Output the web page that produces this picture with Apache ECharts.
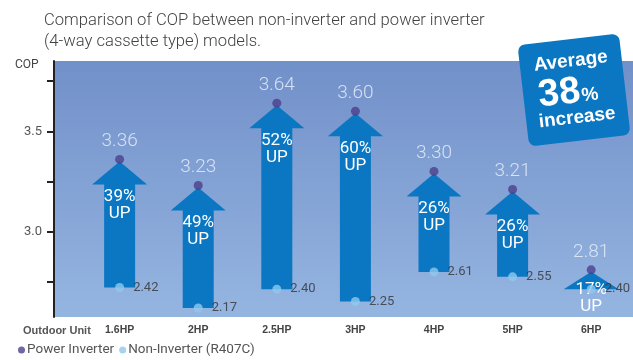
<!DOCTYPE html>
<html>
<head>
<meta charset="utf-8">
<script src="https://cdn.jsdelivr.net/npm/echarts@6/dist/echarts.min.js"></script>
<style>
  html, body { margin: 0; padding: 0; background: #ffffff; }
  #chart { width: 633px; height: 360px; }
</style>
</head>
<body>
<div id="chart"></div>
<script>
// Outdoor unit capacities and their COP figures
const categories = ['1.6HP', '2HP', '2.5HP', '3HP', '4HP', '5HP', '6HP'];
const powerInverter = [3.36, 3.23, 3.64, 3.60, 3.30, 3.21, 2.81];
const nonInverter = [2.42, 2.17, 2.40, 2.25, 2.61, 2.55, 2.40];
const increasePct = [39, 49, 52, 60, 26, 26, 17];
const copTicks = [2.75, 3.0, 3.25, 3.5, 3.75];
const copLabels = [3.0, 3.5];
const categoryTicks = [0, 1, 2, 3, 4, 5, 6];

const ARROW_BLUE = '#0b77c2';
const chart = echarts.init(document.getElementById('chart'));

// Upward arrow from the non-inverter COP (secondary scale) to the inverter COP
function renderArrow(params, api) {
  const idx = api.value(0);
  const tip = api.coord([idx, api.value(1)]);
  const baseY = chart.convertToPixel({ yAxisIndex: 1 }, api.value(2));
  const cx = tip[0];
  const tipY = tip[1] + 2;
  const total = baseY - tipY;
  const headH = Math.min(23, total);
  const headW = 55, shaftW = 31;
  const headBase = tipY + headH;
  const pts = [
    [cx, tipY],
    [cx + headW / 2, headBase],
    [cx + shaftW / 2, headBase],
    [cx + shaftW / 2, baseY],
    [cx - shaftW / 2, baseY],
    [cx - shaftW / 2, headBase],
    [cx - headW / 2, headBase]
  ];
  const textTop = tipY + Math.min(27, Math.max(9, total - 36));
  return {
    type: 'group',
    children: [
      { type: 'polygon', shape: { points: pts }, style: { fill: ARROW_BLUE } },
      {
        type: 'text',
        style: {
          text: api.value(3) + '%\nUP',
          x: cx, y: textTop,
          align: 'center', verticalAlign: 'top',
          fill: '#ffffff', fontSize: 17, lineHeight: 17,
          fontFamily: 'Roboto'
        }
      }
    ]
  };
}

const option = {
  animation: false,
  title: {
    text: 'Comparison of COP between non-inverter and power inverter\n(4-way cassette type) models.',
    left: 44, top: 10, padding: 0,
    textStyle: { fontSize: 16.6, fontWeight: 300, color: '#424242', fontFamily: 'Roboto', lineHeight: 21 }
  },
  legend: {
    left: 18, top: 343, padding: 0,
    icon: 'circle', itemWidth: 7, itemHeight: 7, itemGap: 5,
    textStyle: { fontSize: 13.5, color: '#555', fontFamily: 'Roboto', padding: [0, 0, 0, -3] },
    data: ['Power Inverter', 'Non-Inverter (R407C)']
  },
  grid: {
    left: 54, right: 0, top: 61, bottom: 43, show: true, borderWidth: 0,
    backgroundColor: new echarts.graphic.LinearGradient(0, 0, 0, 1, [
      { offset: 0, color: '#7290c9' },
      { offset: 1, color: '#95b5e1' }
    ])
  },
  xAxis: {
    type: 'value', min: -0.835, max: 6.532,
    axisLine: { show: false, onZero: false }, axisTick: { show: false }, splitLine: { show: false },
    axisLabel: {
      customValues: categoryTicks,
      formatter: v => categories[Math.round(v)],
      fontWeight: 'bold', fontSize: 10.5, color: '#444', margin: 8,
      fontFamily: 'Liberation Sans'
    }
  },
  yAxis: [
    {
      type: 'value', min: 2.575, max: 3.85, position: 'left',
      axisLine: { show: true, onZero: false, lineStyle: { color: '#222', width: 2 } },
      axisTick: { show: true, customValues: copTicks, length: 7, lineStyle: { color: '#222', width: 2 } },
      axisLabel: {
        customValues: copLabels, formatter: v => v.toFixed(1),
        color: '#555', fontSize: 13, margin: 12, fontFamily: 'Roboto'
      },
      splitLine: { show: false }
    },
    {
      type: 'value', min: 2.061, max: 5.179, show: false,
      axisLine: { onZero: false },
      splitLine: { show: false }
    }
  ],
  graphic: [
    { type: 'text', left: 15, top: 59, style: { text: 'COP', fontSize: 12, fill: '#444', fontFamily: 'Roboto' } },
    { type: 'text', left: 23, top: 325, style: { text: 'Outdoor Unit', fontSize: 11, fontWeight: 'bold', fill: '#555', fontFamily: 'Liberation Sans' } },
    {
      type: 'group', x: 574, y: 90, rotation: 0.115, z: 100,
      children: [
        { type: 'rect', shape: { x: -51, y: -51, width: 102, height: 102, r: 7 }, style: { fill: ARROW_BLUE } },
        { type: 'text', style: { text: 'Average', x: 0, y: -29, align: 'center', verticalAlign: 'middle', fill: '#fff', fontSize: 19, fontWeight: 'bold', fontFamily: 'Liberation Sans' } },
        { type: 'text', style: { text: '38', x: 6, y: 2, align: 'right', verticalAlign: 'middle', fill: '#fff', fontSize: 38, fontWeight: 'bold', fontFamily: 'Liberation Sans' } },
        { type: 'text', style: { text: '%', x: 7, y: 7, align: 'left', verticalAlign: 'middle', fill: '#fff', fontSize: 19, fontWeight: 'bold', fontFamily: 'Liberation Sans' } },
        { type: 'text', style: { text: 'increase', x: 0, y: 28, align: 'center', verticalAlign: 'middle', fill: '#fff', fontSize: 19, fontWeight: 'bold', fontFamily: 'Liberation Sans' } }
      ]
    }
  ],
  series: [
    {
      type: 'custom',
      name: 'arrows',
      renderItem: renderArrow,
      encode: { x: 0, y: 1 },
      data: categories.map((c, i) => [i, powerInverter[i], nonInverter[i], increasePct[i]]),
      z: 2, silent: true
    },
    {
      type: 'scatter',
      name: 'Power Inverter',
      symbolSize: 9,
      itemStyle: { color: '#4d3f8c' },
      label: {
        show: true, position: 'top', distance: 4,
        formatter: p => p.value[1].toFixed(2),
        color: '#eef2fa', fontSize: 19, fontWeight: 300, fontFamily: 'Roboto'
      },
      data: categories.map((c, i) => [i, powerInverter[i]]),
      z: 5
    },
    {
      type: 'scatter',
      name: 'Non-Inverter (R407C)',
      yAxisIndex: 1,
      symbolSize: 9,
      itemStyle: { color: '#8dc9ef' },
      label: {
        show: true, position: 'right', distance: 9,
        formatter: p => p.value[1].toFixed(2),
        color: '#333', fontSize: 13, fontFamily: 'Roboto'
      },
      data: categories.map((c, i) => [i, nonInverter[i]]),
      z: 5
    }
  ]
};

chart.setOption(option);
</script>
</body>
</html>
